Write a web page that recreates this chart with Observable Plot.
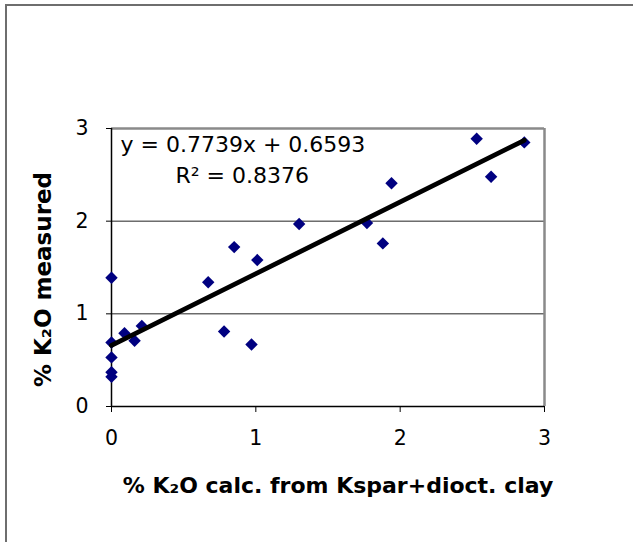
<!DOCTYPE html>
<html><head><meta charset="utf-8">
<script src="https://cdn.jsdelivr.net/npm/d3@7"></script>
<script src="https://cdn.jsdelivr.net/npm/@observablehq/plot@0.6"></script>
<style>
html,body{margin:0;padding:0;background:#fff;overflow:hidden;width:633px;height:542px}
#frame{position:absolute;left:5px;top:4px;width:700px;height:700px;border:2px solid #6e6e6e;box-sizing:border-box}
#chart{position:absolute;left:0;top:0}
</style></head><body>
<div id="frame"></div><div id="chart"></div>
<script>
const xCalc = [0, 0, 0, 0, 0, 0.09, 0.16, 0.21, 0.67, 0.78, 0.85, 0.97, 1.01, 1.30, 1.77, 1.88, 1.94, 2.53, 2.63, 2.86];
const yMeasured = [1.39, 0.69, 0.53, 0.37, 0.32, 0.79, 0.71, 0.87, 1.34, 0.81, 1.72, 0.67, 1.58, 1.97, 1.98, 1.76, 2.41, 2.89, 2.48, 2.85];
const slope = 0.7739, intercept = 0.6593, r2 = 0.8376;
const xTicks = [0, 1, 2, 3];
const yTicks = [0, 1, 2, 3];
const gridValues = [1, 2];
const xLabel = "% K₂O calc. from Kspar+dioct. clay";
const yLabel = "% K₂O measured";
const equation = `y = ${slope}x + ${intercept}`;
const r2Text = `R² = ${r2}`;

const points = xCalc.map((x, i) => ({x, y: yMeasured[i]}));
const trend = [d3.min(xCalc), d3.max(xCalc)].map(x => ({x, y: slope * x + intercept}));

const chart = Plot.plot({
  width: 633, height: 542,
  marginLeft: 111, marginRight: 89, marginTop: 128, marginBottom: 136,
  style: {fontFamily: "DejaVu Sans", fontSize: "20.5px", color: "#000", background: "transparent", overflow: "visible"},
  x: {domain: [0, 3]},
  y: {domain: [0, 3]},
  marks: [
    Plot.gridY(gridValues, {stroke: "#222", strokeOpacity: 1, strokeWidth: 1}),
    Plot.ruleY([3], {stroke: "#8a8a8a", strokeWidth: 2.5}),
    Plot.ruleX([3], {stroke: "#8a8a8a", strokeWidth: 2.5}),
    Plot.ruleX([0], {stroke: "#000", strokeWidth: 1.5}),
    Plot.ruleY([0], {stroke: "#000", strokeWidth: 1.5}),
    Plot.axisX(xTicks, {tickSize: 6, tickPadding: 18, label: null, tickFormat: d => String(d)}),
    Plot.axisY(yTicks, {tickSize: 5, tickPadding: 18, label: null, tickFormat: d => String(d)}),
    Plot.dot(points, {x: "x", y: "y", symbol: "diamond2", r: 5.6, fill: "#000080", stroke: "none"}),
    Plot.line(trend, {x: "x", y: "y", stroke: "#000", strokeWidth: 4.8}),
    Plot.text([equation], {text: d => d, frameAnchor: "top-left", textAnchor: "start", lineAnchor: "middle", dx: 9, dy: 16, fontSize: 22}),
    Plot.text([r2Text], {text: d => d, frameAnchor: "top-left", textAnchor: "start", lineAnchor: "middle", dx: 64, dy: 47, fontSize: 22}),
    Plot.text([xLabel], {text: d => d, frameAnchor: "bottom", textAnchor: "middle", lineAnchor: "middle", dx: 10, dy: 79, fontSize: 22, fontWeight: "bold"}),
    Plot.text([yLabel], {text: d => d, frameAnchor: "left", textAnchor: "middle", lineAnchor: "middle", rotate: -90, dx: -68, dy: 12, fontSize: 23, fontWeight: "bold"})
  ]
});
document.getElementById("chart").appendChild(chart);
</script>
</body></html>
